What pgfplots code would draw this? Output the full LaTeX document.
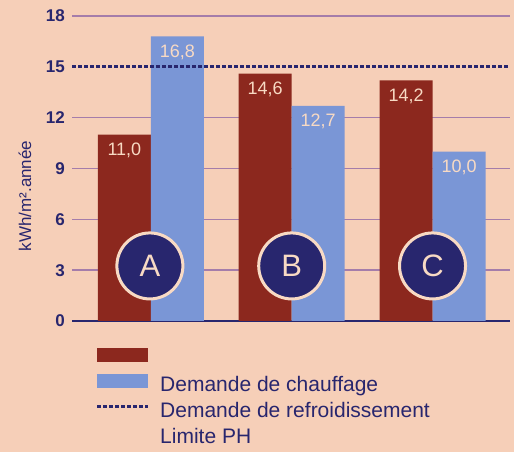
\documentclass[border=0pt]{standalone}
\usepackage{pgfplots}
\pgfplotsset{compat=1.18}
\usepackage{fontspec}
\setmainfont{Liberation Sans}
\definecolor{bg}{RGB}{246,207,184}
\definecolor{barred}{RGB}{140,40,30}
\definecolor{barblue}{RGB}{122,150,214}
\definecolor{navy}{RGB}{40,38,110}
\definecolor{gridc}{RGB}{165,125,170}
\definecolor{lab}{RGB}{248,218,196}
\begin{document}
\begin{tikzpicture}
\fill[bg] (0,0) rectangle (514pt,452pt);
\begin{axis}[
  at={(72pt,131pt)}, anchor=south west,
  width=438pt, height=305pt, scale only axis,
  xmin=-0.56, xmax=2.55, ymin=0, ymax=18,
  clip=false,
  axis x line*=bottom, axis y line*=left,
  x axis line style={navy, line width=2pt},
  y axis line style={draw=none},
  xtick=\empty,
  ytick={0,3,6,9,12,18},
  extra y ticks={15},
  extra y tick style={grid=none},
  ymajorgrids,
  grid style={gridc, line width=1.5pt},
  major tick length=0pt,
  /pgf/number format/assume math mode=true,
  yticklabel style={font=\fontsize{17}{17}\selectfont\bfseries, text=navy, inner sep=0pt, xshift=-7pt},
]
\addplot[ybar, bar width=53pt, bar shift=-26.5pt, fill=barred, draw=none,
  nodes near coords, point meta=explicit symbolic,
  every node near coord/.append style={anchor=center, xshift=-26.5pt, yshift=-16pt, text=lab, font=\fontsize{18}{18}\selectfont}]
  coordinates {(0,11.0) [11,0] (1,14.6) [14,6] (2,14.2) [14,2]};
\addplot[ybar, bar width=53pt, bar shift=26.5pt, fill=barblue, draw=none,
  nodes near coords, point meta=explicit symbolic,
  every node near coord/.append style={anchor=center, xshift=26.5pt, yshift=-16pt, text=lab, font=\fontsize{18}{18}\selectfont}]
  coordinates {(0,16.8) [16,8] (1,12.7) [12,7] (2,10.0) [10,0]};
\addplot[navy, line width=3pt, dash pattern=on 3.5pt off 2.5pt] coordinates {(-0.56,15) (2.55,15)};
\addplot[only marks, mark=*, mark size=33pt, mark options={fill=navy, draw=lab, line width=3pt},
  nodes near coords, point meta=explicit symbolic,
  every node near coord/.append style={anchor=center, yshift=0pt, text=lab, font=\fontsize{31}{31}\selectfont}]
  coordinates {(-0.007,3.25) [A] (1,3.25) [B] (2,3.25) [C]};
\end{axis}
\node[rotate=90, text=navy, font=\fontsize{17}{17}\selectfont] at (25pt,256pt) {kWh/m².année};
% legend
\fill[barred] (97pt,90pt) rectangle (148pt,104pt);
\fill[barblue] (97pt,64pt) rectangle (148pt,78pt);
\draw[navy, line width=3pt, dash pattern=on 3.5pt off 2.5pt] (97pt,45pt) -- (148pt,45pt);
\begin{scope}[every node/.style={anchor=base west, inner sep=0pt, text=navy, font=\fontsize{21}{21}\selectfont}]
\node at (160pt,60pt) {Demande de chauffage};
\node at (160pt,34pt) {Demande de refroidissement};
\node at (160pt,8pt) {Limite PH};
\end{scope}
\pgfresetboundingbox
\useasboundingbox (0,0) rectangle (514pt,452pt);
\end{tikzpicture}
\end{document}
